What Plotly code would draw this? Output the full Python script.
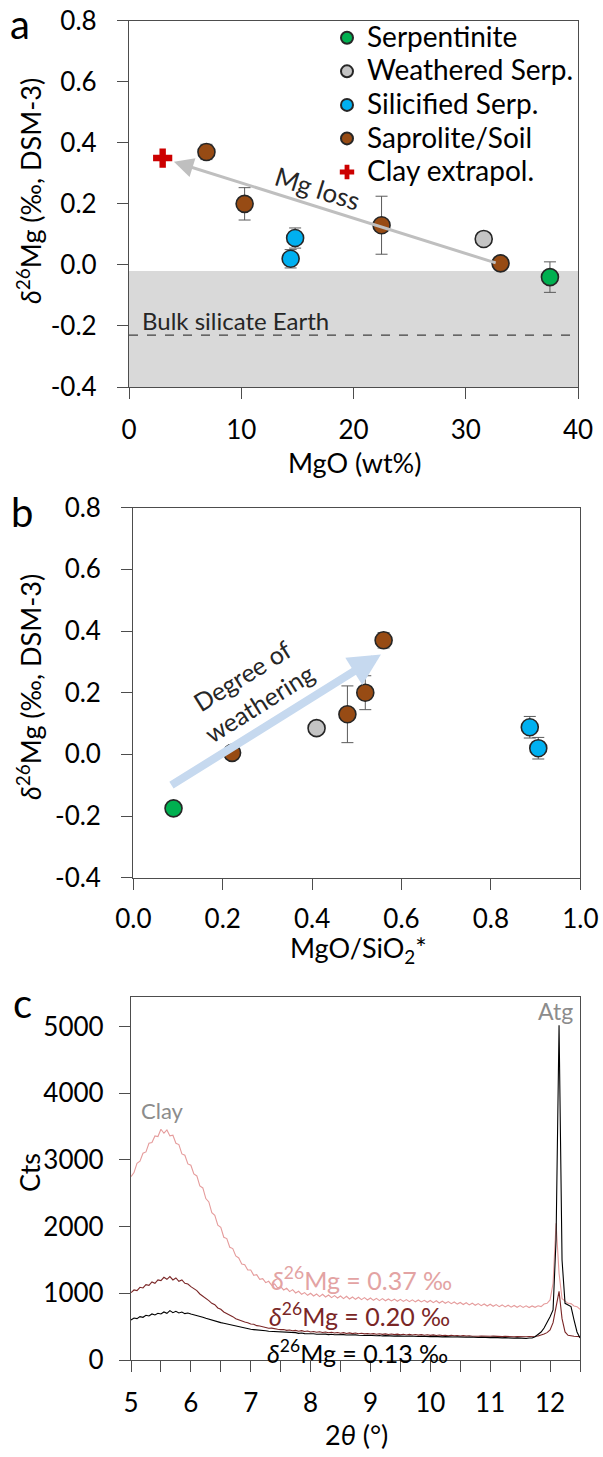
import plotly.graph_objects as go

FONT = "Lato"
W, H = 603, 1457

# ---------------- Panel a: d26Mg vs MgO ----------------
serp_mgo = [37.5]
serp_d26 = [-0.04]
serp_err = [0.05]

wserp_mgo = [31.6]
wserp_d26 = [0.085]
wserp_err = [0.0]

sil_mgo = [14.8, 14.4]
sil_d26 = [0.088, 0.02]
sil_err = [0.033, 0.03]

sap_mgo = [6.9, 10.3, 22.5, 33.1]
sap_d26 = [0.37, 0.20, 0.13, 0.005]
sap_err = [0.025, 0.053, 0.095, 0.0]

clay_mgo = [3.0]
clay_d26 = [0.35]

bse_band = [-0.40, -0.02]
bse_value = -0.23

mgloss_tail = (32.8, 0.005)
mgloss_tip = (4.0, 0.338)

# ---------------- Panel b: d26Mg vs MgO/SiO2* ----------------
serp_ratio = [0.09]
serp_d26_b = [-0.175]
serp_err_b = [0.0]

wserp_ratio = [0.41]
wserp_d26_b = [0.085]

sil_ratio = [0.887, 0.906]
sil_d26_b = [0.088, 0.02]
sil_err_b = [0.035, 0.035]

sap_ratio = [0.56, 0.519, 0.479, 0.221]
sap_d26_b = [0.37, 0.20, 0.13, 0.005]
sap_err_b = [0.025, 0.055, 0.092, 0.0]

weathering_tail = (0.082, -0.103)
weathering_tip = (0.554, 0.324)

# ---------------- Panel c: XRD patterns (0.05 deg steps, 5.00 - 12.50) ----------------
two_theta = [round(5 + 0.05 * i, 2) for i in range(151)]

cts_037 = [
    2750, 2810, 2950, 2980, 3100, 3120, 3250, 3260, 3360, 3350, 3460, 3400, 3450, 3360, 3370, 3250, 3230, 3090, 3070, 2940,
    2920, 2790, 2760, 2610, 2580, 2420, 2370, 2210, 2170, 2020, 1990, 1840, 1820, 1690, 1670, 1560, 1530, 1440, 1430, 1350,
    1350, 1270, 1280, 1210, 1220, 1160, 1180, 1120, 1140, 1080, 1100, 1050, 1075, 1025, 1055, 1005, 1030, 985, 1010, 970,
    1000, 960, 990, 950, 985, 945, 975, 935, 965, 930, 960, 920, 955, 915, 945, 910, 940, 905, 935, 900,
    930, 895, 925, 890, 920, 888, 915, 885, 912, 880, 910, 878, 905, 875, 902, 872, 900, 870, 895, 866,
    892, 860, 888, 855, 882, 850, 875, 845, 870, 838, 862, 832, 858, 826, 852, 820, 846, 815, 840, 810,
    836, 805, 830, 800, 826, 796, 822, 792, 818, 790, 815, 788, 812, 786, 810, 790, 812, 800, 840, 850,
    900, 1150, 2050, 1300, 920, 890, 850, 845, 810, 800, 760,
]

cts_020 = [
    1010, 1050, 1040, 1090, 1080, 1130, 1120, 1170, 1150, 1200, 1190, 1240, 1210, 1250, 1200, 1230, 1180, 1200, 1150, 1140,
    1100, 1070, 1040, 990, 960, 930, 890, 850, 830, 780, 760, 720, 700, 670, 650, 620, 600, 590, 570, 560,
    540, 535, 515, 510, 495, 490, 475, 478, 465, 462, 455, 458, 445, 450, 438, 444, 432, 440, 428, 434,
    420, 428, 416, 424, 412, 420, 408, 416, 404, 412, 402, 410, 398, 406, 396, 404, 394, 400, 392, 398,
    390, 396, 386, 394, 384, 392, 382, 390, 380, 388, 378, 386, 376, 384, 374, 382, 373, 380, 372, 378,
    370, 376, 368, 374, 366, 372, 364, 370, 362, 368, 360, 366, 358, 364, 357, 362, 356, 360, 355, 358,
    355, 358, 352, 356, 350, 354, 348, 352, 347, 350, 346, 350, 348, 352, 350, 356, 360, 372, 390, 410,
    450, 560, 780, 1030, 620, 420, 370, 360, 355, 352, 350,
]

cts_013 = [
    600, 630, 620, 650, 640, 670, 660, 690, 675, 700, 690, 720, 700, 740, 710, 730, 705, 720, 695, 705,
    690, 680, 665, 650, 640, 625, 610, 600, 590, 575, 560, 550, 540, 530, 515, 505, 490, 485, 470, 468,
    460, 455, 448, 450, 440, 438, 432, 430, 425, 424, 418, 420, 410, 414, 406, 410, 400, 404, 396, 398,
    390, 394, 386, 390, 384, 388, 380, 386, 378, 382, 376, 380, 374, 378, 372, 376, 370, 374, 368, 370,
    365, 370, 363, 368, 361, 366, 360, 364, 358, 362, 357, 361, 356, 359, 355, 358, 353, 356, 352, 354,
    350, 354, 348, 352, 347, 350, 345, 349, 344, 347, 342, 346, 341, 344, 340, 343, 338, 341, 337, 340,
    335, 339, 333, 337, 331, 335, 329, 333, 327, 331, 325, 329, 322, 330, 330, 350, 380, 420, 480, 560,
    650, 750, 1800, 5020, 1500, 850, 830, 800, 600, 420, 330,
]

# tick labels
yticks_d26 = [-0.4, -0.2, 0.0, 0.2, 0.4, 0.6, 0.8]
yticks_d26_text = ["-0.4", "-0.2", "0.0", "0.2", "0.4", "0.6", "0.8"]
xticks_mgo = [0, 10, 20, 30, 40]
xticks_ratio = [0.0, 0.2, 0.4, 0.6, 0.8, 1.0]
xticks_ratio_text = ["0.0", "0.2", "0.4", "0.6", "0.8", "1.0"]
xticks_theta = [5, 5.5, 6, 6.5, 7, 7.5, 8, 8.5, 9, 9.5, 10, 10.5, 11, 11.5, 12, 12.5]
xticks_theta_text = ["5", "", "6", "", "7", "", "8", "", "9", "", "10", "", "11", "", "12", ""]
yticks_cts = [0, 1000, 2000, 3000, 4000, 5000]

GREEN = "#00b050"
GREY = "#c4c4c4"
BLUE = "#00b0f0"
BROWN = "#974b14"
RED = "#cc0000"
EDGE = "#262626"
ERR = "#5a5a5a"
AXIS = "#4d4d4d"


def err(values):
    return dict(type="data", array=values, color=ERR, thickness=1, width=6, visible=True)


def marker(color):
    return dict(size=17, color=color, line=dict(color=EDGE, width=1.6))


def legend_name(txt):
    # legend rows are spaced by the (smaller) legend font, text is drawn a bit larger
    return '<span style="font-size:28px">' + txt + "</span>"


fig = go.Figure()

# panel a points
fig.add_trace(go.Scatter(x=serp_mgo, y=serp_d26, error_y=err(serp_err), mode="markers",
                         marker=marker(GREEN), name=legend_name("Serpentinite"), legendgroup="1",
                         xaxis="x", yaxis="y"))
fig.add_trace(go.Scatter(x=wserp_mgo, y=wserp_d26, error_y=err(wserp_err), mode="markers",
                         marker=marker(GREY), name=legend_name("Weathered Serp."), legendgroup="2",
                         xaxis="x", yaxis="y"))
fig.add_trace(go.Scatter(x=sil_mgo, y=sil_d26, error_y=err(sil_err), mode="markers",
                         marker=marker(BLUE), name=legend_name("Silicified Serp."), legendgroup="3",
                         xaxis="x", yaxis="y"))
fig.add_trace(go.Scatter(x=sap_mgo, y=sap_d26, error_y=err(sap_err), mode="markers",
                         marker=marker(BROWN), name=legend_name("Saprolite/Soil"), legendgroup="4",
                         xaxis="x", yaxis="y"))
fig.add_trace(go.Scatter(x=clay_mgo, y=clay_d26, mode="markers",
                         marker=dict(symbol="cross", size=16, color=RED, line=dict(width=0)),
                         name=legend_name("Clay extrapol."), legendgroup="5", xaxis="x", yaxis="y"))

# panel b points
for xs, ys, es, col in [
    (serp_ratio, serp_d26_b, serp_err_b, GREEN),
    (wserp_ratio, wserp_d26_b, [0.0], GREY),
    (sil_ratio, sil_d26_b, sil_err_b, BLUE),
    (sap_ratio, sap_d26_b, sap_err_b, BROWN),
]:
    fig.add_trace(go.Scatter(x=xs, y=ys, error_y=err(es), mode="markers", marker=marker(col),
                             showlegend=False, xaxis="x2", yaxis="y2"))

# panel c patterns
for ys, col in [(cts_037, "#e59c9c"), (cts_020, "#7a2626"), (cts_013, "#000000")]:
    fig.add_trace(go.Scatter(x=two_theta, y=ys, mode="lines", line=dict(color=col, width=1.1),
                             showlegend=False, xaxis="x3", yaxis="y3"))


def px_x(p):
    return p / W


def px_y(p):
    return 1 - p / H


tickfont = dict(family=FONT, size=26, color="#000000")
common = dict(showline=True, linecolor=AXIS, linewidth=1.3, mirror=True, ticks="outside",
              ticklen=11, tickcolor=AXIS, tickwidth=1.3, showgrid=False, zeroline=False,
              tickfont=tickfont, automargin=False, fixedrange=True)

fig.update_layout(
    width=W, height=H, autosize=False,
    margin=dict(l=0, r=0, t=0, b=0),
    paper_bgcolor="white", plot_bgcolor="white",
    font=dict(family=FONT, color="#000000"),
    xaxis=dict(domain=[px_x(129), px_x(578)], range=[0, 40], tickvals=xticks_mgo,
               anchor="y", ticklabelstandoff=9, **common),
    yaxis=dict(domain=[px_y(387), px_y(20.7)], range=[-0.4, 0.8], tickvals=yticks_d26,
               ticktext=yticks_d26_text, anchor="x", ticklabelstandoff=15, **common),
    xaxis2=dict(domain=[px_x(133.3), px_x(580.3)], range=[0, 1], tickvals=xticks_ratio,
                ticktext=xticks_ratio_text, anchor="y2", ticklabelstandoff=7, **common),
    yaxis2=dict(domain=[px_y(877.7), px_y(507.7)], range=[-0.4, 0.8], tickvals=yticks_d26,
                ticktext=yticks_d26_text, anchor="x2", ticklabelstandoff=15, **common),
    xaxis3=dict(domain=[px_x(131), px_x(580)], range=[5, 12.5], tickvals=xticks_theta,
                ticktext=xticks_theta_text, anchor="y3", ticklabelstandoff=9, **common),
    yaxis3=dict(domain=[px_y(1360), px_y(996.5)], range=[0, 5450], tickvals=yticks_cts,
                anchor="x3", ticklabelstandoff=10, **common),
    legend=dict(x=px_x(327), y=px_y(16), xanchor="left", yanchor="top",
                font=dict(family=FONT, size=23.5, color="#000000"),
                bgcolor="rgba(0,0,0,0)", borderwidth=0, tracegroupgap=0,
                itemsizing="constant"),
)

# bulk silicate Earth band and value
fig.add_shape(type="rect", xref="x", yref="y", x0=0, x1=40, y0=bse_band[0], y1=bse_band[1],
              fillcolor="#d9d9d9", line=dict(width=0), layer="below")
fig.add_shape(type="line", xref="x", yref="y", x0=0, x1=40, y0=bse_value, y1=bse_value,
              line=dict(color="#404040", width=1.2, dash="dash"), layer="below")

annotations = []
# Mg loss arrow
annotations.append(dict(x=mgloss_tip[0], y=mgloss_tip[1], ax=mgloss_tail[0], ay=mgloss_tail[1],
                        xref="x", yref="y", axref="x", ayref="y", text="", showarrow=True,
                        arrowhead=2, arrowsize=1.3, arrowwidth=3, arrowcolor="#bfbfbf"))
annotations.append(dict(x=16.75, y=0.252, xref="x", yref="y", text="Mg loss", showarrow=False,
                        xanchor="center", yanchor="middle", textangle=17.5,
                        font=dict(family=FONT, size=26, color="#262626")))
annotations.append(dict(x=1.0, y=bse_value, xref="x", yref="y", text="Bulk silicate Earth",
                        showarrow=False, xanchor="left", yanchor="bottom", yshift=-2,
                        font=dict(family=FONT, size=24, color="#262626")))
# degree of weathering arrow
annotations.append(dict(x=weathering_tip[0], y=weathering_tip[1], ax=weathering_tail[0],
                        ay=weathering_tail[1], xref="x2", yref="y2", axref="x2", ayref="y2",
                        text="", showarrow=True, arrowhead=2, arrowsize=0.8, arrowwidth=8,
                        arrowcolor="#c6d9ef"))
annotations.append(dict(x=0.262, y=0.211, xref="x2", yref="y2", text="Degree of<br>weathering",
                        showarrow=False, textangle=-32, xanchor="center", yanchor="middle",
                        font=dict(family=FONT, size=25, color="#262626")))
# XRD labels
annotations.append(dict(x=5.53, y=3744, xref="x3", yref="y3", text="Clay", showarrow=False,
                        xanchor="center", yanchor="middle",
                        font=dict(family=FONT, size=22, color="#8c8c8c")))
annotations.append(dict(x=12.09, y=5240, xref="x3", yref="y3", text="Atg", showarrow=False,
                        xanchor="center", yanchor="middle",
                        font=dict(family=FONT, size=23, color="#8c8c8c")))
for x0, y0, txt, col in [
    (7.30, 1225, "0.37", "#e3a3a3"),
    (7.27, 677, "0.20", "#7a2626"),
    (7.23, 128, "0.13", "#000000"),
]:
    annotations.append(dict(x=x0, y=y0, xref="x3", yref="y3", xanchor="left", yanchor="middle",
                            text="<i>δ</i><sup>26</sup>Mg = " + txt + " ‰", showarrow=False,
                            font=dict(family=FONT, size=25, color=col)))

# axis titles and panel letters
title_font = dict(family=FONT, size=27, color="#000000")
for x, y, txt, ang in [
    (29, 191, "<i>δ</i><sup>26</sup>Mg (‰, DSM-3)", -90),
    (354, 462, "MgO (wt%)", 0),
    (29, 687, "<i>δ</i><sup>26</sup>Mg (‰, DSM-3)", -90),
    (358, 949, "MgO/SiO<sub>2</sub>*", 0),
    (29, 1173, "Cts", -90),
    (356, 1434, "2<i>θ</i> (°)", 0),
]:
    annotations.append(dict(x=px_x(x), y=px_y(y), xref="paper", yref="paper", text=txt,
                            xanchor="center", yanchor="middle",
                            showarrow=False, textangle=ang, font=title_font))
for x, y, txt in [(20, 24, "a"), (22, 512, "b"), (22, 1003, "c")]:
    annotations.append(dict(x=px_x(x), y=px_y(y), xref="paper", yref="paper", text=txt,
                            xanchor="center", yanchor="middle",
                            showarrow=False, font=dict(family=FONT, size=40, color="#000000")))

fig.update_layout(annotations=annotations)

fig.write_html("out.html", config={"displayModeBar": False})
